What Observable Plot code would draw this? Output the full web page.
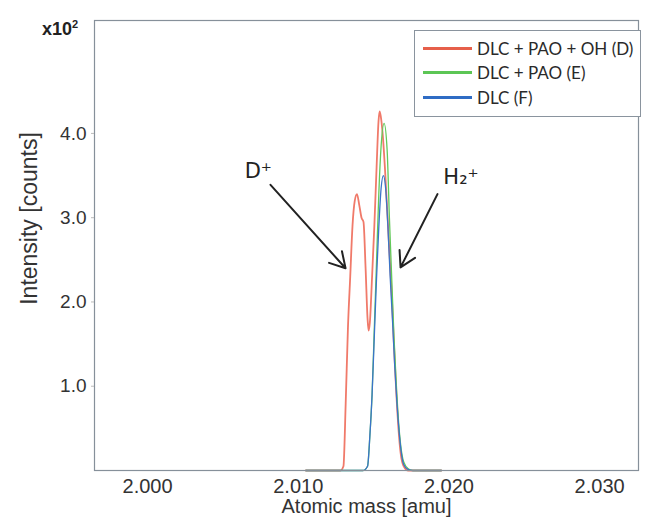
<!DOCTYPE html>
<html>
<head>
<meta charset="utf-8">
<script src="https://cdn.jsdelivr.net/npm/d3@7"></script>
<script src="https://cdn.jsdelivr.net/npm/@observablehq/plot@0.6"></script>
<style>
  body { margin: 0; background: #fff; }
  #wrap { position: relative; width: 659px; height: 523px; font-family: "Liberation Sans", Arial, sans-serif; }
  #legend { position: absolute; left: 414px; top: 30px; width: 227px; height: 87px; box-sizing: border-box;
            border: 1px solid #8a949e; background: #fff; font-family: Lato, "Open Sans", sans-serif; font-size: 17px; color: #2a2a2a; }
  .row { position: absolute; left: 8px; height: 20px; display: flex; align-items: center; white-space: nowrap; }
  .sw { width: 49px; height: 3px; margin-right: 5px; }
  #mult { position: absolute; left: 42px; top: 18px; font-weight: bold; font-size: 18px; color: #222; }
</style>
</head>
<body>
<div id="wrap"><div id="chart"></div></div>
<script>
// Series: mass [amu] and intensity [x10^2 counts]
const seriesNames = ["DLC + PAO + OH (D)", "DLC + PAO (E)", "DLC (F)"];
const seriesColors = ["#f07a6a", "#62c95a", "#3a74c8"];
const legendColors = ["#e65f4a", "#5cc655", "#2f6cc4"];

const massD = [2.0105, 2.0128, 2.0130, 2.01315, 2.0133, 2.01345, 2.0136, 2.01375, 2.0139, 2.01405, 2.0142, 2.01433, 2.01447, 2.0146, 2.01467, 2.01475, 2.0149, 2.01505, 2.0152, 2.01533, 2.0154, 2.01548, 2.0156, 2.01575, 2.0159, 2.01605, 2.0162, 2.01635, 2.0165, 2.01665, 2.0168, 2.0170, 2.0173, 2.0195];
const intD  = [0, 0, 0.05, 0.8, 1.7, 2.3, 2.9, 3.2, 3.28, 3.15, 3.0, 2.95, 2.4, 1.8, 1.66, 1.75, 2.3, 2.9, 3.6, 4.15, 4.26, 4.2, 4.0, 3.6, 3.1, 2.6, 2.1, 1.5, 0.95, 0.5, 0.2, 0.05, 0, 0];

const massE = [2.0105, 2.0143, 2.0146, 2.01475, 2.0149, 2.01505, 2.0152, 2.01535, 2.0155, 2.0157, 2.0159, 2.01605, 2.0162, 2.01635, 2.0165, 2.01665, 2.0168, 2.0170, 2.0173, 2.0176, 2.0195];
const intE  = [0, 0, 0.05, 0.4, 0.9, 1.7, 2.5, 3.3, 3.85, 4.12, 3.8, 3.0, 2.3, 1.6, 1.05, 0.6, 0.3, 0.1, 0.02, 0, 0];

const massF = [2.0105, 2.0143, 2.0146, 2.01475, 2.0149, 2.01505, 2.0152, 2.01535, 2.0155, 2.01565, 2.0158, 2.01595, 2.0161, 2.01625, 2.0164, 2.01655, 2.0167, 2.01685, 2.0170, 2.0173, 2.0176, 2.0195];
const intF  = [0, 0, 0.05, 0.4, 0.9, 1.6, 2.3, 2.9, 3.35, 3.5, 3.35, 2.9, 2.3, 1.8, 1.25, 0.8, 0.45, 0.2, 0.07, 0.01, 0, 0];

const xTicks = [2.000, 2.010, 2.020, 2.030];
const yTicks = [1, 2, 3, 4];

// Annotations (data coordinates)
const annLabels = ["D\u207A", "H\u2082\u207A"];
const annLabelX = [2.00735, 2.02080];
const annLabelY = [3.55, 3.48];
const arrowX1 = [2.00816, 2.01924];
const arrowY1 = [3.39, 3.28];
const arrowX2 = [2.01314, 2.01679];
const arrowY2 = [2.40, 2.41];

const rows = [];
[[massD, intD], [massE, intE], [massF, intF]].forEach(([m, v], i) => {
  m.forEach((x, j) => rows.push({mass: x, intensity: v[j], series: seriesNames[i]}));
});
const arrows = arrowX1.map((x, i) => ({x1: x, y1: arrowY1[i], x2: arrowX2[i], y2: arrowY2[i]}));
const anns = annLabels.map((t, i) => ({t, x: annLabelX[i], y: annLabelY[i]}));

const plot = Plot.plot({
  width: 659,
  height: 523,
  marginLeft: 94,
  marginRight: 21,
  marginTop: 20,
  marginBottom: 53,
  style: {fontFamily: "'Liberation Sans', Arial, sans-serif", color: "#333", background: "#fff"},
  x: {domain: [1.99648, 2.03258]},
  y: {domain: [0, 5.34]},
  marks: [
    ...seriesNames.map((s, i) => Plot.line(rows.filter(d => d.series === s), {
      x: "mass", y: "intensity", stroke: seriesColors[i], strokeWidth: i === 0 ? 1.8 : 1.3, curve: "monotone-x"
    })),
    Plot.frame({stroke: "#86909a", strokeWidth: 1.2}),
    Plot.axisX({ticks: xTicks, tickFormat: d3.format(".3f"), tickSize: 0, tickPadding: 8, fontSize: 20, label: null}),
    Plot.axisY({ticks: yTicks, tickFormat: d3.format(".1f"), tickSize: 3, tickPadding: 5, fontSize: 19, stroke: "#bbb", label: null}),
    Plot.text(["Atomic mass [amu]"], {frameAnchor: "bottom", dy: 42, fontSize: 20, fill: "#333"}),
    Plot.text(["Intensity [counts]"], {frameAnchor: "left", textAnchor: "middle", rotate: -90, dx: -65, dy: -27, fontSize: 23, fill: "#333"}),
    Plot.arrow(arrows, {x1: "x1", y1: "y1", x2: "x2", y2: "y2", stroke: "#222", strokeWidth: 2, headLength: 13, bend: 0}),
    Plot.text(anns, {x: "x", y: "y", text: "t", fontSize: 21, fill: "#222", fontFamily: "'DejaVu Sans', sans-serif"})
  ]
});
document.getElementById("chart").appendChild(plot);

const wrap = document.getElementById("wrap");
const mult = document.createElement("div");
mult.id = "mult";
mult.innerHTML = "x10<sup style='font-size:11px'>2</sup>";
wrap.appendChild(mult);

const legend = document.createElement("div");
legend.id = "legend";
seriesNames.forEach((s, i) => {
  const r = document.createElement("div");
  r.className = "row";
  r.style.top = (7 + i * 24.5) + "px";
  r.innerHTML = `<div class="sw" style="background:${legendColors[i]}"></div><span>${s}</span>`;
  legend.appendChild(r);
});
wrap.appendChild(legend);
</script>
</body>
</html>
